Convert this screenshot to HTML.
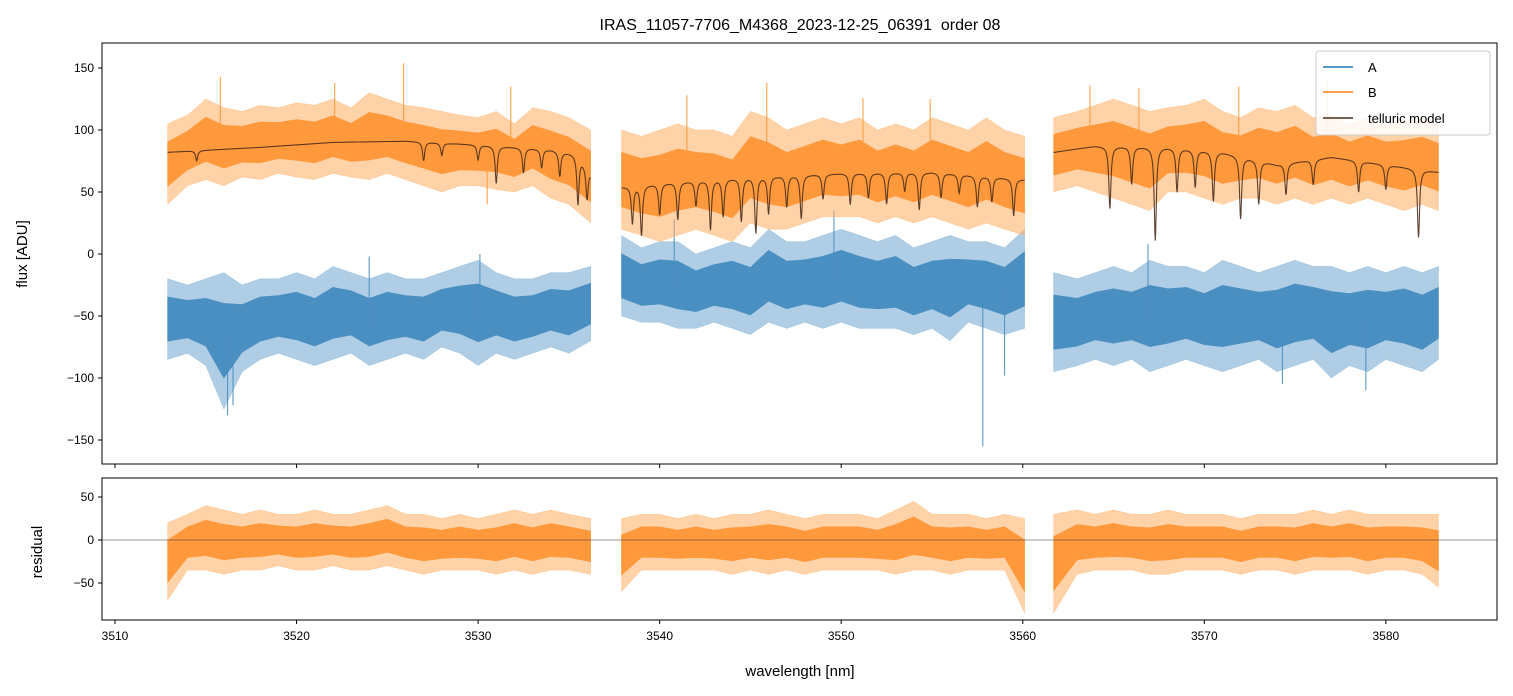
<!DOCTYPE html>
<html><head><meta charset="utf-8"><style>
body{margin:0;background:#fff;}
svg{display:block;font-family:"Liberation Sans","DejaVu Sans",sans-serif;}
</style></head><body>
<svg id="c" width="1513" height="696" viewBox="0 0 1513 696">
<text x="800" y="30" font-size="16" text-anchor="middle" xml:space="preserve">IRAS_11057-7706_M4368_2023-12-25_06391  order 08</text>
<g id="top"></g>
<g id="bot"></g>
</svg>
<script>
// ---- data ----
const segWave = [
 [3512.9,3514,3515,3516,3517,3518,3519,3520,3521,3522,3523,3524,3525,3526,3527,3528,3529,3530,3531,3532,3533,3534,3535,3536.2],
 [3537.9,3539,3540,3541,3542,3543,3544,3545,3546,3547,3548,3549,3550,3551,3552,3553,3554,3555,3556,3557,3558,3559,3560.1],
 [3561.7,3563,3564,3565,3566,3567,3568,3569,3570,3571,3572,3573,3574,3575,3576,3577,3578,3579,3580,3581,3582,3582.9]
];
const bHi = [
 [105,112,125,118,115,120,118,122,120,125,118,130,125,120,118,115,112,110,115,105,118,115,110,100],
 [100,95,100,105,100,100,95,115,110,100,105,110,105,110,100,105,100,110,105,100,110,100,95],
 [110,115,120,125,120,115,118,120,125,115,110,118,115,120,110,112,105,110,105,108,110,105]
];
const bLo = [
 [40,55,60,55,62,60,65,62,60,65,62,60,65,60,55,50,55,55,52,50,55,45,40,25],
 [20,15,10,15,20,15,10,25,20,20,25,30,30,30,25,30,25,30,25,20,25,20,15],
 [50,55,50,45,40,35,50,50,45,40,45,45,40,45,40,45,40,45,40,35,40,35]
];
const aHi = [
 [-20,-25,-20,-15,-25,-20,-20,-15,-20,-10,-15,-20,-15,-20,-20,-15,-10,-5,-15,-20,-20,-15,-15,-10],
 [15,5,10,10,0,5,10,5,20,10,10,15,20,15,10,15,5,10,15,10,10,5,20],
 [-15,-20,-15,-10,-15,-5,-10,-10,-15,-5,-10,-15,-10,-5,-10,-10,-15,-10,-15,-10,-15,-10]
];
const aLo = [
 [-85,-80,-90,-125,-95,-85,-80,-85,-90,-85,-80,-90,-85,-80,-85,-75,-80,-90,-80,-85,-80,-75,-80,-70],
 [-50,-55,-55,-60,-60,-55,-60,-65,-55,-60,-55,-60,-55,-60,-60,-60,-65,-60,-70,-55,-60,-65,-60],
 [-95,-90,-85,-90,-85,-95,-90,-85,-90,-95,-90,-85,-95,-90,-85,-100,-90,-95,-85,-90,-95,-85]
];
const rHi = [
 [20,30,40,35,30,35,30,30,35,30,30,35,40,30,30,25,30,25,30,35,30,35,30,25],
 [25,30,30,25,30,25,30,30,35,30,25,30,30,30,25,35,45,30,30,30,25,30,25],
 [30,35,30,35,30,30,35,30,30,30,25,30,30,30,35,30,35,30,30,30,30,30]
];
const rLo = [
 [-70,-35,-35,-40,-35,-35,-30,-35,-35,-30,-35,-35,-30,-35,-40,-35,-35,-35,-40,-35,-40,-35,-35,-40],
 [-60,-35,-35,-35,-35,-35,-40,-35,-40,-35,-40,-35,-35,-35,-35,-40,-35,-35,-40,-35,-35,-35,-85],
 [-85,-40,-35,-35,-35,-40,-40,-35,-35,-35,-40,-35,-35,-40,-35,-35,-35,-40,-35,-35,-40,-55]
];
const bSpikeW = [3515.8,3522.1,3525.9,3530.5,3531.8,3541.5,3545.9,3551.2,3554.9,3563.7,3566.4,3571.9,3576.8];
const bSpikeV = [143,138,154,40,135,128,138,126,125,136,134,135,140];
const aSpikeW = [3516.2,3516.5,3524.0,3530.1,3540.8,3549.6,3557.8,3559.0,3566.9,3574.3,3578.9];
const aSpikeV = [-130,-122,-2,0,28,35,-155,-98,8,-105,-110];
const modelBaseW = [
 [3512.9,3518,3522,3526,3530,3534,3535.5,3536.2],
 [3537.9,3541,3545,3550,3555,3560.1],
 [3561.7,3564,3568,3571,3574,3577,3580,3582.9]
];
const modelBaseV = [
 [82,86,90,91,88,84,80,65],
 [54,58,62,65,66,60],
 [82,87,86,82,72,78,72,66]
];
const dipW = [3514.5,3527,3528,3530,3531,3532.5,3533.5,3534.5,3535.5,3536,
 3538.5,3539,3540,3541,3542,3542.8,3543.5,3544.5,3545.3,3546,3547,3547.8,3549,3550.5,3551.5,3552.5,3553.5,3554.3,3555.5,3556.5,3557.5,3558.3,3559.5,
 3564.8,3566,3567.3,3568.5,3569.5,3570.5,3572,3573,3574.5,3576,3578.5,3580,3581.8];
const dipDepth = [8,15,10,12,30,20,15,20,40,25,
 30,40,25,30,20,40,30,35,45,30,25,35,20,25,20,25,15,30,20,15,25,20,30,
 50,30,75,35,30,40,50,35,25,20,25,20,55];
const xTicks = [3510,3520,3530,3540,3550,3560,3570,3580];
const yTicksTop = [150,100,50,0,-50,-100,-150];
const yTicksBot = [50,0,-50];

// ---- axes ----
const NS='http://www.w3.org/2000/svg';
const X0=102,X1=1497, T0=43,T1=464, B0=478,B1=620;
const xs = w => 115 + (w-3510)*18.155;
const yt = v => 254 - v*1.24;
const yb = v => 540 - v*0.86;
function mk(tag, attrs, parent){const e=document.createElementNS(NS,tag);for(const k in attrs)e.setAttribute(k,attrs[k]);parent.appendChild(e);return e;}
const topG=document.getElementById('top'), botG=document.getElementById('bot');
function interp(ws,vs,w){for(let i=0;i<ws.length-1;i++){if(w<=ws[i+1]){const t=(w-ws[i])/(ws[i+1]-ws[i]);return vs[i]+t*(vs[i+1]-vs[i]);}}return vs[vs.length-1];}
function band(parent, his, los, ysc, color, core, name){
  for(let s=0;s<3;s++){
    const W=segWave[s];
    [[1,color,0.55],[0.55,core,1]].forEach(([f,col,op],layer)=>{
      let pts=[];
      for(let i=0;i<W.length;i++){const m=(his[s][i]+los[s][i])/2,h=(his[s][i]-los[s][i])/2;pts.push(xs(W[i]).toFixed(1)+','+ysc(m+h*f).toFixed(1));}
      for(let i=W.length-1;i>=0;i--){const m=(his[s][i]+los[s][i])/2,h=(his[s][i]-los[s][i])/2;pts.push(xs(W[i]).toFixed(1)+','+ysc(m-h*f).toFixed(1));}
      const p=mk('polygon',{points:pts.join(' '),fill:col,'fill-opacity':op,stroke:col,'stroke-width':0.5,'stroke-opacity':op},parent);
      
      
    });
  }
}
function spikes(parent, ws, vs, his, los, color, name){
  ws.forEach((w,k)=>{
    let s=w<3537?0:(w<3561?1:2);
    const m=(interp(segWave[s],his[s],w)+interp(segWave[s],los[s],w))/2;
    const l=mk('line',{x1:xs(w),x2:xs(w),y1:yt(m),y2:yt(vs[k]),stroke:color,'stroke-width':1},parent);
    
    
  });
}
const fr1=mk('rect',{x:X0,y:T0,width:X1-X0,height:T1-T0,fill:'none',stroke:'#000','stroke-width':1},topG);


const fr2=mk('rect',{x:X0,y:B0,width:X1-X0,height:B1-B0,fill:'none',stroke:'#000','stroke-width':1},botG);



band(topG, aHi, aLo, yt, '#6ea6cf', '#4a8fc2', 'series-a-band');
spikes(topG, aSpikeW, aSpikeV, aHi, aLo, '#4a8fc2', 'series-a-spike');
band(topG, bHi, bLo, yt, '#ffad60', '#ff993b', 'series-b-band');
spikes(topG, bSpikeW, bSpikeV, bHi, bLo, '#ff993b', 'series-b-spike');
for(let s=0;s<3;s++){
  const W=modelBaseW[s]; let d='';
  for(let w=W[0]; w<=W[W.length-1]+1e-9; w+=0.02){
    let v=interp(W,modelBaseV[s],w);
    for(let k=0;k<dipW.length;k++){const g=0.07;const dx=w-dipW[k];v-=dipDepth[k]*g*g/(dx*dx+g*g);}
    d+=(d?'L':'M')+xs(w).toFixed(1)+','+yt(v).toFixed(1);
  }
  const p=mk('path',{d:d,fill:'none',stroke:'#4a2e1c','stroke-width':1.1,'stroke-opacity':0.9},topG);
  
  
}
band(botG, rHi, rLo, yb, '#ffad60', '#ff993b', 'residual-band');
const zl=mk('line',{x1:X0,x2:X1,y1:yb(0),y2:yb(0),stroke:'#333','stroke-width':0.6},botG);



xTicks.forEach(t=>{
  const x=xs(t);
  mk('line',{x1:x,x2:x,y1:T1,y2:T1+4,stroke:'#000'},topG);
  mk('line',{x1:x,x2:x,y1:B1,y2:B1+4,stroke:'#000'},botG);
  const tx=mk('text',{x:x,y:B1+20,'font-size':12,'text-anchor':'middle'},botG);
  tx.textContent=t;
  
  
});
yTicksTop.forEach(t=>{
  const y=yt(t);
  mk('line',{x1:X0-4,x2:X0,y1:y,y2:y,stroke:'#000'},topG);
  const tx=mk('text',{x:X0-8,y:y+4,'font-size':12,'text-anchor':'end'},topG);
  tx.textContent=t===0?'0':(t<0?'\u2212'+(-t):t);
  
  
});
yTicksBot.forEach(t=>{
  const y=yb(t);
  mk('line',{x1:X0-4,x2:X0,y1:y,y2:y,stroke:'#000'},botG);
  const tx=mk('text',{x:X0-8,y:y+4,'font-size':12,'text-anchor':'end'},botG);
  tx.textContent=t===0?'0':(t<0?'\u2212'+(-t):t);
  
  
});
let at=mk('text',{x:800,y:676,'font-size':15,'text-anchor':'middle'},botG);
at.textContent='wavelength [nm]';


at=mk('text',{x:27,y:254,'font-size':15,'text-anchor':'middle',transform:'rotate(-90 27 254)'},topG);
at.textContent='flux [ADU]';


at=mk('text',{x:42,y:552,'font-size':15,'text-anchor':'middle',transform:'rotate(-90 42 552)'},botG);
at.textContent='residual';


const lg=mk('g',{},topG);


mk('rect',{x:1316,y:51,width:174,height:84,rx:3,fill:'#fff','fill-opacity':0.85,stroke:'#ccc'},lg);
[['A','#1f77b4',67],['B','#ff7f0e',92],['telluric model','#4a2e1c',118]].forEach(e=>{
  const l=mk('line',{x1:1323,x2:1353,y1:e[2],y2:e[2],stroke:e[1],'stroke-width':1.5},lg);
  
  
  const t=mk('text',{x:1368,y:e[2]+5,'font-size':13},lg);
  t.textContent=e[0];
  
  
});
</script>
</body></html>
